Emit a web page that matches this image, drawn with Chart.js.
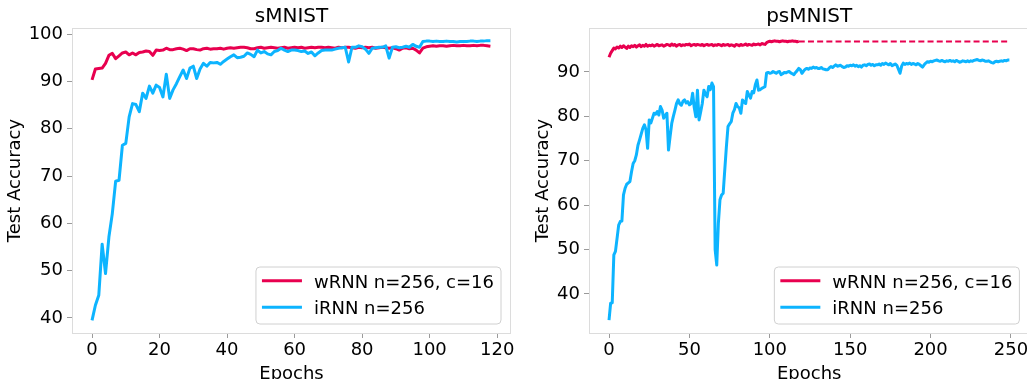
<!DOCTYPE html>
<html>
<head>
<meta charset="utf-8">
<script src="https://cdn.jsdelivr.net/npm/chart.js@4.4.1/dist/chart.umd.min.js"></script>
<style>
html,body{margin:0;padding:0;overflow:hidden;background:#fff;width:1027px;height:379px;}
.wrap{position:absolute;top:0;width:520px;height:390px;}
#wrapL{left:0;}
#wrapR{left:520px;}
</style>
</head>
<body>
<div class="wrap" id="wrapL"><canvas id="cL" width="520" height="390"></canvas></div>
<div class="wrap" id="wrapR"><canvas id="cR" width="520" height="390"></canvas></div>
<script>
// ---------- data ----------
const seriesNames = ['wRNN n=256, c=16', 'iRNN n=256'];
const panelTitles = ['sMNIST', 'psMNIST'];

const sEpochs = Array.from({length: 119}, (_, i) => i);
const pEpochs = Array.from({length: 250}, (_, i) => i);

const sMnistWRNN = [
 90.3, 92.6, 92.7, 92.8, 93.8, 95.5, 95.9, 94.8, 95.4, 96.0,
 96.2, 95.6, 96.0, 95.6, 96.1, 96.2, 96.4, 96.3, 95.5, 96.6,
 96.5, 96.6, 97.0, 96.7, 96.7, 96.9, 97.0, 96.8, 96.5, 96.9,
 96.9, 96.7, 96.6, 96.9, 97.0, 96.8, 96.9, 96.9, 97.0, 96.8,
 97.0, 97.1, 97.0, 97.1, 97.2, 97.2, 97.1, 96.9, 96.9, 97.1,
 97.2, 97.0, 97.1, 97.2, 97.1, 97.0, 97.1, 97.2, 97.0, 97.1,
 97.2, 97.1, 97.2, 97.0, 97.1, 97.2, 97.1, 97.2, 97.2, 97.1,
 97.2, 97.1, 97.0, 97.2, 97.1, 97.2, 97.2, 97.1, 97.0, 97.2,
 97.1, 97.2, 97.1, 97.2, 97.0, 97.1, 97.2, 97.1, 97.0, 97.1,
 96.9, 96.6, 97.0, 97.1, 96.9, 97.0, 96.6, 96.0, 97.0, 97.3,
 97.4, 97.5, 97.4, 97.5, 97.5, 97.4, 97.5, 97.6, 97.5, 97.5,
 97.6, 97.5, 97.5, 97.6, 97.5, 97.6, 97.6, 97.5, 97.4
];
const sMnistIRNN = [
 39.5, 42.7, 44.8, 55.6, 49.4, 57.1, 62.0, 68.9, 69.1, 76.5,
 76.9, 82.5, 85.3, 85.1, 83.6, 87.5, 86.4, 89.0, 87.5, 89.2,
 88.7, 86.7, 91.5, 86.4, 88.2, 89.5, 91.0, 92.4, 90.6, 92.8,
 93.2, 90.6, 92.6, 93.8, 93.2, 94.0, 93.9, 94.0, 93.6, 94.2,
 94.7, 95.2, 95.6, 95.0, 95.1, 95.3, 96.0, 95.7, 95.2, 96.6,
 96.0, 96.3, 95.8, 95.6, 96.3, 96.5, 97.0, 96.6, 96.3, 96.6,
 96.6, 96.5, 96.3, 96.4, 95.9, 96.2, 95.4, 96.0, 96.5, 96.6,
 96.6, 96.6, 96.8, 97.0, 97.1, 97.2, 94.1, 97.2, 97.2, 97.5,
 97.3, 96.8, 95.9, 97.0, 97.1, 97.2, 97.2, 97.5, 94.9, 97.2,
 97.3, 97.1, 97.2, 97.4, 97.2, 97.8, 97.4, 97.2, 98.4, 98.5,
 98.5, 98.4, 98.5, 98.4, 98.4, 98.5, 98.4, 98.4, 98.3, 98.4,
 98.4, 98.4, 98.5, 98.5, 98.4, 98.5, 98.5, 98.6, 98.6
];
const psMnistWRNN = [
 93.3, 94.2, 94.8, 95.4, 95.2, 95.6, 95.4, 95.8, 95.5, 95.9,
 95.6, 95.3, 95.8, 95.5, 95.9, 95.7, 96.0, 95.6, 95.9, 96.1,
 95.7, 96.0, 95.8, 96.2, 95.8, 96.0, 95.9, 96.1, 95.8, 96.0,
 96.2, 95.9, 96.0, 96.1, 95.8, 96.0, 96.2, 96.1, 95.9, 96.3,
 96.0, 96.2, 95.8, 96.1, 96.2, 95.9, 96.1, 96.0, 96.2, 96.1,
 96.3, 95.9, 96.1, 96.2, 96.0, 96.2, 96.1, 96.0, 96.2, 95.9,
 96.1, 96.2, 96.0, 96.1, 96.2, 95.9, 96.1, 96.0, 96.2, 96.1,
 95.9, 96.2, 96.0, 96.1, 96.2, 95.9, 96.1, 96.0, 95.8, 96.2,
 96.1, 95.9, 96.2, 96.0, 96.1, 96.3, 96.0, 96.2, 96.1, 96.0,
 96.3, 96.1, 96.2, 96.3, 96.1, 96.4, 96.3, 96.2, 96.6, 96.8,
 96.9, 96.8, 96.9, 97.0, 96.9, 96.9, 96.8, 96.9, 97.0, 96.9,
 96.9, 96.8, 96.9, 96.9, 97.0, 96.9, 96.9, 96.8, 96.9
];
// extension (dashed) of the wRNN psMNIST result
const psMnistWRNNExtEpochs = [118, 249];
const psMnistWRNNExt = [96.85, 96.85];
const psMnistIRNN = [
 34.1, 37.9, 38.0, 48.8, 49.6, 52.5, 55.5, 56.3, 56.4, 62.3,
 63.8, 64.7, 65.0, 65.3, 67.5, 69.4, 70.0, 71.3, 73.5, 74.7,
 76.0, 77.3, 78.1, 77.0, 72.8, 79.2, 78.5, 79.6, 80.7, 80.5,
 81.1, 80.3, 82.2, 81.4, 79.6, 80.2, 80.7, 72.4, 75.5, 78.4,
 80.0, 81.4, 82.9, 83.7, 82.8, 82.5, 83.4, 83.7, 83.0, 83.3,
 82.6, 82.9, 85.2, 82.0, 79.9, 85.9, 79.2, 81.0, 82.9, 85.9,
 85.0, 84.4, 86.7, 86.0, 87.5, 86.7, 50.0, 46.5, 55.9, 61.2,
 62.3, 62.7, 68.0, 73.2, 77.7, 78.3, 78.8, 80.7, 81.5, 82.9,
 82.2, 81.9, 80.7, 83.7, 83.2, 82.9, 85.6, 84.8, 84.1, 85.6,
 85.3, 87.1, 88.2, 85.9, 86.0, 86.3, 86.5, 86.7, 89.8, 89.9,
 89.7, 89.8, 90.1, 89.9, 89.7, 90.0, 90.1, 89.4, 89.6, 89.9,
 89.8, 90.0, 90.1, 89.8, 89.6, 89.4, 89.9, 90.3, 90.8, 90.5,
 89.7, 90.2, 90.6, 90.8, 90.6, 90.9, 90.8, 91.1, 90.9, 91.0,
 90.8, 90.8, 91.0, 90.7, 90.6, 90.5, 90.5, 90.9, 91.2, 91.0,
 91.3, 91.6, 91.3, 91.4, 91.5, 91.2, 91.0, 91.1, 91.4, 91.3,
 91.5, 91.4, 91.6, 91.3, 91.5, 91.2, 91.4, 91.1, 91.5, 91.6,
 91.4, 91.7, 91.8, 91.5, 91.7, 91.4, 91.6, 91.6, 91.8, 91.5,
 91.9, 91.7, 92.0, 91.8, 91.6, 91.9, 91.4, 91.6, 91.8, 91.5,
 90.6, 89.7, 91.3, 92.0, 91.7, 91.9, 91.8, 92.0, 91.7, 91.9,
 91.8, 91.6, 91.9, 91.7, 91.4, 91.1, 91.6, 92.0, 92.3, 92.2,
 92.4, 92.3, 92.5, 92.6, 92.7, 92.5, 92.4, 92.6, 92.4, 92.3,
 92.5, 92.4, 92.6, 92.4, 92.5, 92.3, 92.6, 92.4, 92.2, 92.3,
 92.5, 92.4, 92.3, 92.5, 92.3, 92.5, 92.4, 92.6, 92.7, 92.8,
 92.6, 92.5, 92.7, 92.6, 92.4, 92.4, 92.5, 92.3, 92.1, 92.0,
 92.3, 92.4, 92.3, 92.4, 92.5, 92.4, 92.6, 92.5, 92.7, 92.7
];

const sXTicks = [0, 20, 40, 60, 80, 100, 120];
const sYTicks = [40, 50, 60, 70, 80, 90, 100];
const pXTicks = [0, 50, 100, 150, 200, 250];
const pYTicks = [40, 50, 60, 70, 80, 90];

// ---------- styling ----------
const F = "'DejaVu Sans', 'Liberation Sans', sans-serif";
const RED = '#e8004f';
const BLUE = '#0db4ff';
const CANVAS_H = 390;
const PLOT_TOP = 28;
const PLOT_BOTTOM = 333;

function pts(xs, ys) { return ys.map((v, i) => ({x: xs[i], y: v})); }

function panelPlugin(title, legendItems) {
  return {
    id: 'panel',
    afterDatasetsDraw(chart) {
      const a = chart.chartArea, ctx = chart.ctx;
      ctx.save();
      ctx.strokeStyle = '#dcdcdc';
      ctx.lineWidth = 1;
      ctx.strokeRect(Math.round(a.left) + 0.5, Math.round(a.top) + 0.5,
                     Math.round(a.right - a.left) - 1, Math.round(a.bottom - a.top));
      ctx.restore();
    },
    afterDraw(chart) {
      const a = chart.chartArea, ctx = chart.ctx;
      ctx.save();
      // title
      ctx.fillStyle = '#000';
      ctx.font = '20px ' + F;
      ctx.textAlign = 'center';
      ctx.textBaseline = 'alphabetic';
      ctx.fillText(title, (a.left + a.right) / 2, 22);
      // legend
      ctx.font = '18px ' + F;
      const tw = Math.max(...legendItems.map(it => ctx.measureText(it.label).width));
      const w = 6 + 40 + 13 + tw + 6, h = 57;
      const x1 = a.right - 10 - w, y1 = a.bottom - 9 - h;
      const r = 4;
      ctx.beginPath();
      ctx.moveTo(x1 + r, y1);
      ctx.lineTo(x1 + w - r, y1);
      ctx.arcTo(x1 + w, y1, x1 + w, y1 + r, r);
      ctx.lineTo(x1 + w, y1 + h - r);
      ctx.arcTo(x1 + w, y1 + h, x1 + w - r, y1 + h, r);
      ctx.lineTo(x1 + r, y1 + h);
      ctx.arcTo(x1, y1 + h, x1, y1 + h - r, r);
      ctx.lineTo(x1, y1 + r);
      ctx.arcTo(x1, y1, x1 + r, y1, r);
      ctx.closePath();
      ctx.fillStyle = 'rgba(255,255,255,0.8)';
      ctx.fill();
      ctx.strokeStyle = '#d0d0d0';
      ctx.lineWidth = 1;
      ctx.stroke();
      legendItems.forEach((it, i) => {
        const y = y1 + 13.7 + i * 26.6;
        ctx.strokeStyle = it.color;
        ctx.lineWidth = 3;
        ctx.lineCap = 'butt';
        ctx.beginPath();
        ctx.moveTo(x1 + 6, y);
        ctx.lineTo(x1 + 46, y);
        ctx.stroke();
        ctx.fillStyle = '#000';
        ctx.textAlign = 'left';
        ctx.textBaseline = 'alphabetic';
        ctx.fillText(it.label, x1 + 58, y + 7);
      });
      ctx.restore();
    }
  };
}

function scales(o) {
  return {
    x: {
      type: 'linear', min: o.xmin, max: o.xmax,
      afterFit(s) { s.height = CANVAS_H - PLOT_BOTTOM; },
      afterBuildTicks(s) { s.ticks = o.xticks.map(v => ({value: v})); },
      grid: {display: true, drawOnChartArea: false, drawTicks: true, tickLength: 5, color: '#9a9a9a', lineWidth: 1},
      border: {display: false},
      ticks: {font: {family: F, size: 18}, color: '#000', padding: 2, maxRotation: 0, autoSkip: false,
              callback: v => String(v)},
      title: {display: true, text: 'Epochs', font: {family: F, size: 18}, color: '#000',
              padding: {top: 0, bottom: 4.5}}
    },
    y: {
      type: 'linear', min: o.ymin, max: o.ymax,
      afterFit(s) { s.width = o.yw; },
      afterBuildTicks(s) { s.ticks = o.yticks.map(v => ({value: v})); },
      grid: {display: true, drawOnChartArea: false, drawTicks: true, tickLength: 5, color: '#9a9a9a', lineWidth: 1},
      border: {display: false},
      ticks: {font: {family: F, size: 18}, color: '#000', padding: 4, autoSkip: false,
              callback: v => String(v)},
      title: {display: true, text: 'Test Accuracy', font: {family: F, size: 18}, color: '#000',
              padding: {top: o.ytp, bottom: 0}}
    }
  };
}

function lineDs(label, data, color, order, extra) {
  return Object.assign({
    label, data, borderColor: color, backgroundColor: color,
    borderWidth: 3, pointRadius: 0, tension: 0, fill: false,
    borderJoinStyle: 'round', borderCapStyle: 'butt', order
  }, extra || {});
}

const common = {
  responsive: false, animation: false, devicePixelRatio: 1,
  plugins: {legend: {display: false}, title: {display: false}, tooltip: {enabled: false}},
  events: []
};

new Chart(document.getElementById('cL'), {
  type: 'line',
  data: {datasets: [
    lineDs(seriesNames[0], pts(sEpochs, sMnistWRNN), RED, 2),
    lineDs(seriesNames[1], pts(sEpochs, sMnistIRNN), BLUE, 1)
  ]},
  options: Object.assign({}, common, {
    layout: {padding: {left: 0, right: 520 - 511, top: PLOT_TOP, bottom: 0}},
    scales: scales({xmin: -5.93, xmax: 124.1, ymin: 36.83, ymax: 101.27,
                    xticks: sXTicks, yticks: sYTicks, yw: 72, ytp: 5})
  }),
  plugins: [panelPlugin(panelTitles[0], [{label: seriesNames[0], color: RED}, {label: seriesNames[1], color: BLUE}])]
});

new Chart(document.getElementById('cR'), {
  type: 'line',
  data: {datasets: [
    lineDs(seriesNames[0], pts(pEpochs, psMnistWRNN), RED, 2),
    lineDs(seriesNames[0] + ' (ext)', pts(psMnistWRNNExtEpochs, psMnistWRNNExt), RED, 3,
           {borderWidth: 2, borderDash: [6, 3.2]}),
    lineDs(seriesNames[1], pts(pEpochs, psMnistIRNN), BLUE, 1)
  ]},
  options: Object.assign({}, common, {
    layout: {padding: {left: 0, right: 520 - 509.4, top: PLOT_TOP, bottom: 0}},
    scales: scales({xmin: -12.45, xmax: 261.45, ymin: 31.2, ymax: 99.9,
                    xticks: pXTicks, yticks: pYTicks, yw: 69, ytp: 13})
  }),
  plugins: [panelPlugin(panelTitles[1], [{label: seriesNames[0], color: RED}, {label: seriesNames[1], color: BLUE}])]
});
</script>
</body>
</html>
